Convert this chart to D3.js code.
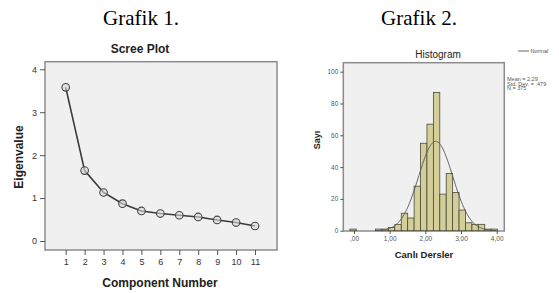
<!DOCTYPE html>
<meta charset="utf-8">
<style>
body { margin: 0; background: #fff; }
text { font-family: Arial, "Liberation Sans", sans-serif; }
.grafik { font-family: "Liberation Serif", "Times New Roman", serif; font-size: 21px; fill: #000; }
.frame { fill: #f0f0f0; stroke: #8c8c8c; stroke-width: 1.5px; }
.axis path { display: none; }
.axis line { stroke: #555; }
.scree-line { fill: none; stroke: #3a3a3a; stroke-width: 1.6px; }
.bar { fill: #d4cf98; stroke: #4a4a3a; stroke-width: 0.8px; }
.normal { fill: none; stroke: #555; stroke-width: 0.9px; }
</style>
<body>
<script src="https://d3js.org/d3.v7.min.js"></script>
<script>

// scree plot data
var components = [1, 2, 3, 4, 5, 6, 7, 8, 9, 10, 11];
var eigenvalues = [3.58, 1.64, 1.13, 0.87, 0.70, 0.64, 0.60, 0.56, 0.49, 0.43, 0.35];
var screeTicks = [0, 1, 2, 3, 4];

// histogram data (bin start, bin width = 0.18)
var binStarts = [-0.115, 0.605, 0.785, 0.965, 1.145, 1.325, 1.505, 1.685, 1.865, 2.045,
                 2.225, 2.405, 2.585, 2.765, 2.945, 3.125, 3.305, 3.485, 3.665, 3.845];
var binCounts = [1, 1, 1, 2, 4, 11, 8, 28, 55, 67,
                 87, 23, 36, 24, 13, 5, 4, 4, 1, 1];
var binWidth = 0.18;
var histYTicks = [0, 20, 40, 60, 80, 100];
var histXTicks = [0, 1, 2, 3, 4];
var histXLabels = [",00", "1,00", "2,00", "3,00", "4,00"];
var mean = 2.29, stdDev = 0.479, nCount = 375;
var statLines = ["Mean = 2,29", "Std. Dev. = ,479", "N = 375"];

var svg = d3.select("body").append("svg")
    .attr("width", 559)
    .attr("height", 293);

// captions
svg.append("text").attr("class", "grafik")
    .attr("x", 141).attr("y", 25).attr("text-anchor", "middle").text("Grafik 1.");
svg.append("text").attr("class", "grafik")
    .attr("x", 419).attr("y", 25).attr("text-anchor", "middle").text("Grafik 2.");

// ---------- Scree plot ----------
var x1 = d3.scaleLinear().domain([1, 11]).range([65.7, 255]);
var y1 = d3.scaleLinear().domain([0, 4]).range([241, 69.3]);

svg.append("rect").attr("class", "frame")
    .attr("x", 45).attr("y", 61.7).attr("width", 232).attr("height", 188.3);

svg.append("text")
    .attr("x", 140).attr("y", 53)
    .attr("text-anchor", "middle")
    .style("font-size", "12px").style("font-weight", "bold").style("fill", "#222")
    .text("Scree Plot");

var yAx1 = svg.append("g").attr("class", "axis")
    .attr("transform", "translate(45,0)")
    .call(d3.axisLeft(y1).tickValues(screeTicks).tickSize(5).tickPadding(3).tickFormat(d3.format("d")));
yAx1.selectAll("text").style("font-size", "9px").style("fill", "#333");

var xAx1 = svg.append("g").attr("class", "axis")
    .attr("transform", "translate(0,250)")
    .call(d3.axisBottom(x1).tickValues(components).tickSize(5).tickPadding(4).tickFormat(d3.format("d")));
xAx1.selectAll("text").style("font-size", "9px").style("fill", "#333");

svg.append("text")
    .attr("transform", "translate(23,157) rotate(-90)")
    .attr("text-anchor", "middle")
    .style("font-size", "12px").style("font-weight", "bold").style("fill", "#222")
    .text("Eigenvalue");

svg.append("text")
    .attr("x", 160).attr("y", 287)
    .attr("text-anchor", "middle")
    .style("font-size", "12px").style("font-weight", "bold").style("fill", "#222")
    .text("Component Number");

var screeData = components.map(function(c, i) { return {c: c, v: eigenvalues[i]}; });

svg.append("path")
    .datum(screeData)
    .attr("class", "scree-line")
    .attr("d", d3.line()
      .x(function(d) { return x1(d.c); })
      .y(function(d) { return y1(d.v); }));

svg.selectAll(".pt")
    .data(screeData)
  .enter().append("circle")
    .attr("class", "pt")
    .attr("cx", function(d) { return x1(d.c); })
    .attr("cy", function(d) { return y1(d.v); })
    .attr("r", 3.8)
    .style("fill", "#d8d8d8")
    .style("fill-opacity", 0.6)
    .style("stroke", "#444")
    .style("stroke-width", 1.1);

// ---------- Histogram ----------
var x2 = d3.scaleLinear().domain([0, 4]).range([354, 496.7]);
var y2 = d3.scaleLinear().domain([0, 100]).range([230.7, 71.7]);

svg.append("rect").attr("class", "frame")
    .attr("x", 343.3).attr("y", 62.7).attr("width", 161).attr("height", 168.3);

svg.append("text")
    .attr("x", 438).attr("y", 58)
    .attr("text-anchor", "middle")
    .style("font-size", "10px").style("fill", "#222")
    .text("Histogram");

var histData = binStarts.map(function(s, i) { return {s: s, n: binCounts[i]}; });

svg.selectAll(".bar")
    .data(histData)
  .enter().append("rect")
    .attr("class", "bar")
    .attr("x", function(d) { return x2(d.s); })
    .attr("width", function(d) { return x2(d.s + binWidth) - x2(d.s); })
    .attr("y", function(d) { return y2(d.n); })
    .attr("height", function(d) { return y2(0) - y2(d.n); });

// normal curve from the shown statistics
var curvePts = d3.range(0.6, 4.0, 0.02).map(function(v) {
  var z = (v - mean) / stdDev;
  return {v: v, n: nCount * binWidth * Math.exp(-0.5 * z * z) / (stdDev * Math.sqrt(2 * Math.PI))};
});
svg.append("path")
    .datum(curvePts)
    .attr("class", "normal")
    .attr("d", d3.line()
      .x(function(d) { return x2(d.v); })
      .y(function(d) { return y2(d.n); }));

var yAx2 = svg.append("g").attr("class", "axis")
    .attr("transform", "translate(343.3,0)")
    .call(d3.axisLeft(y2).tickValues(histYTicks).tickSize(3).tickPadding(2));
yAx2.selectAll("text").style("font-size", "6.5px").style("fill", "#555");

var xAx2 = svg.append("g").attr("class", "axis")
    .attr("transform", "translate(0,231)")
    .call(d3.axisBottom(x2).tickValues(histXTicks).tickSize(3).tickPadding(2)
      .tickFormat(function(d, i) { return histXLabels[i]; }));
xAx2.selectAll("text").style("font-size", "6.5px").style("fill", "#555");

svg.append("text")
    .attr("transform", "translate(320,140) rotate(-90)")
    .attr("text-anchor", "middle")
    .style("font-size", "9px").style("font-weight", "bold").style("fill", "#222")
    .text("Sayı");

svg.append("text")
    .attr("x", 424).attr("y", 258)
    .attr("text-anchor", "middle")
    .style("font-size", "9.5px").style("font-weight", "bold").style("fill", "#222")
    .text("Canlı Dersler");

// legend
svg.append("line")
    .attr("x1", 518).attr("x2", 529).attr("y1", 51).attr("y2", 51)
    .style("stroke", "#444").style("stroke-width", 0.8);
svg.append("text")
    .attr("x", 530.5).attr("y", 53)
    .style("font-size", "5.5px").style("fill", "#555")
    .text("Normal");

svg.selectAll(".stat")
    .data(statLines)
  .enter().append("text")
    .attr("class", "stat")
    .attr("x", 507)
    .attr("y", function(d, i) { return 81 + i * 4.7; })
    .style("font-size", "5.5px").style("fill", "#555")
    .text(function(d) { return d; });

</script>
</body>
